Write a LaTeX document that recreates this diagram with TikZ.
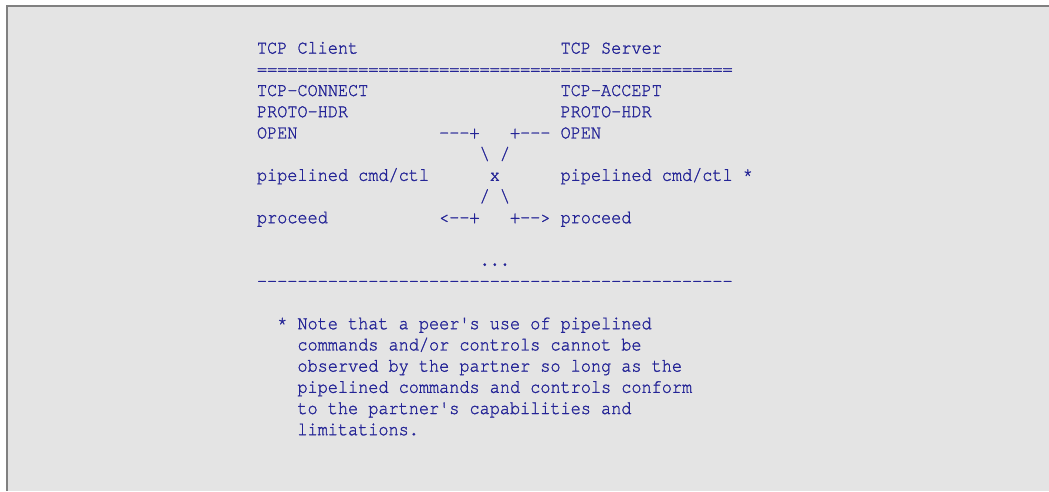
\documentclass[tikz,border=0pt]{standalone}
\usepackage{fontspec}
\newfontfamily\asciifont[FakeStretch=0.8785, FakeBold=1.2]{TeX Gyre Cursor}
\definecolor{ink}{RGB}{36,36,150}
\definecolor{panel}{RGB}{228,228,228}
\definecolor{framegray}{RGB}{128,128,128}
\tikzset{
  txt/.style={anchor=base west, inner sep=0pt, outer sep=0pt, text=ink,
    font=\asciifont\fontsize{19.2}{21.2}\selectfont},
}
% place text at a character cell: column, row, node name, text
\newcommand\cellat[4]{\node[txt] (#3) at ({257+10.12*#1},{53.6+21.2*#2}) {#4};}
\begin{document}
\begin{tikzpicture}[x=1pt,y=-1pt]
  \useasboundingbox (0,0) rectangle (1049,491);
  \fill[white] (0,0) rectangle (1049,491);
  \fill[panel] (7,6) rectangle (1049,491);
  \draw[framegray, line width=1.3pt] (7,491) -- (7,6) -- (1049,6);

  \cellat{0}{0}{client}{TCP Client}
  \cellat{30}{0}{server}{TCP Server}
  \cellat{0}{1}{rule1}{===============================================}
  \cellat{0}{2}{cconn}{TCP-CONNECT}
  \cellat{30}{2}{saccept}{TCP-ACCEPT}
  \cellat{0}{3}{chdr}{PROTO-HDR}
  \cellat{30}{3}{shdr}{PROTO-HDR}
  \cellat{0}{4}{copen}{OPEN}
  \cellat{18}{4}{copenarr}{---+}
  \cellat{25}{4}{sopenarr}{+---}
  \cellat{30}{4}{sopen}{OPEN}
  \cellat{22}{5}{bs1}{\textbackslash}
  \cellat{24}{5}{sl1}{/}
  \cellat{0}{6}{cpipe}{pipelined cmd/ctl}
  \cellat{23}{6}{cross}{x}
  \cellat{30}{6}{spipe}{pipelined cmd/ctl}
  \cellat{48}{6}{star}{*}
  \cellat{22}{7}{sl2}{/}
  \cellat{24}{7}{bs2}{\textbackslash}
  \cellat{0}{8}{cproc}{proceed}
  \cellat{18}{8}{cprocarr}{<--+}
  \cellat{25}{8}{sprocarr}{+-->}
  \cellat{30}{8}{sproc}{proceed}
  \cellat{22}{10}{dots}{...}
  \cellat{0}{11}{rule2}{-----------------------------------------------}
  \cellat{2}{13}{notestar}{*}
  \cellat{4}{13}{note1}{Note that a peer's use of pipelined}
  \cellat{4}{14}{note2}{commands and/or controls cannot be}
  \cellat{4}{15}{note3}{observed by the partner so long as the}
  \cellat{4}{16}{note4}{pipelined commands and controls conform}
  \cellat{4}{17}{note5}{to the partner's capabilities and}
  \cellat{4}{18}{note6}{limitations.}
\end{tikzpicture}
\end{document}
